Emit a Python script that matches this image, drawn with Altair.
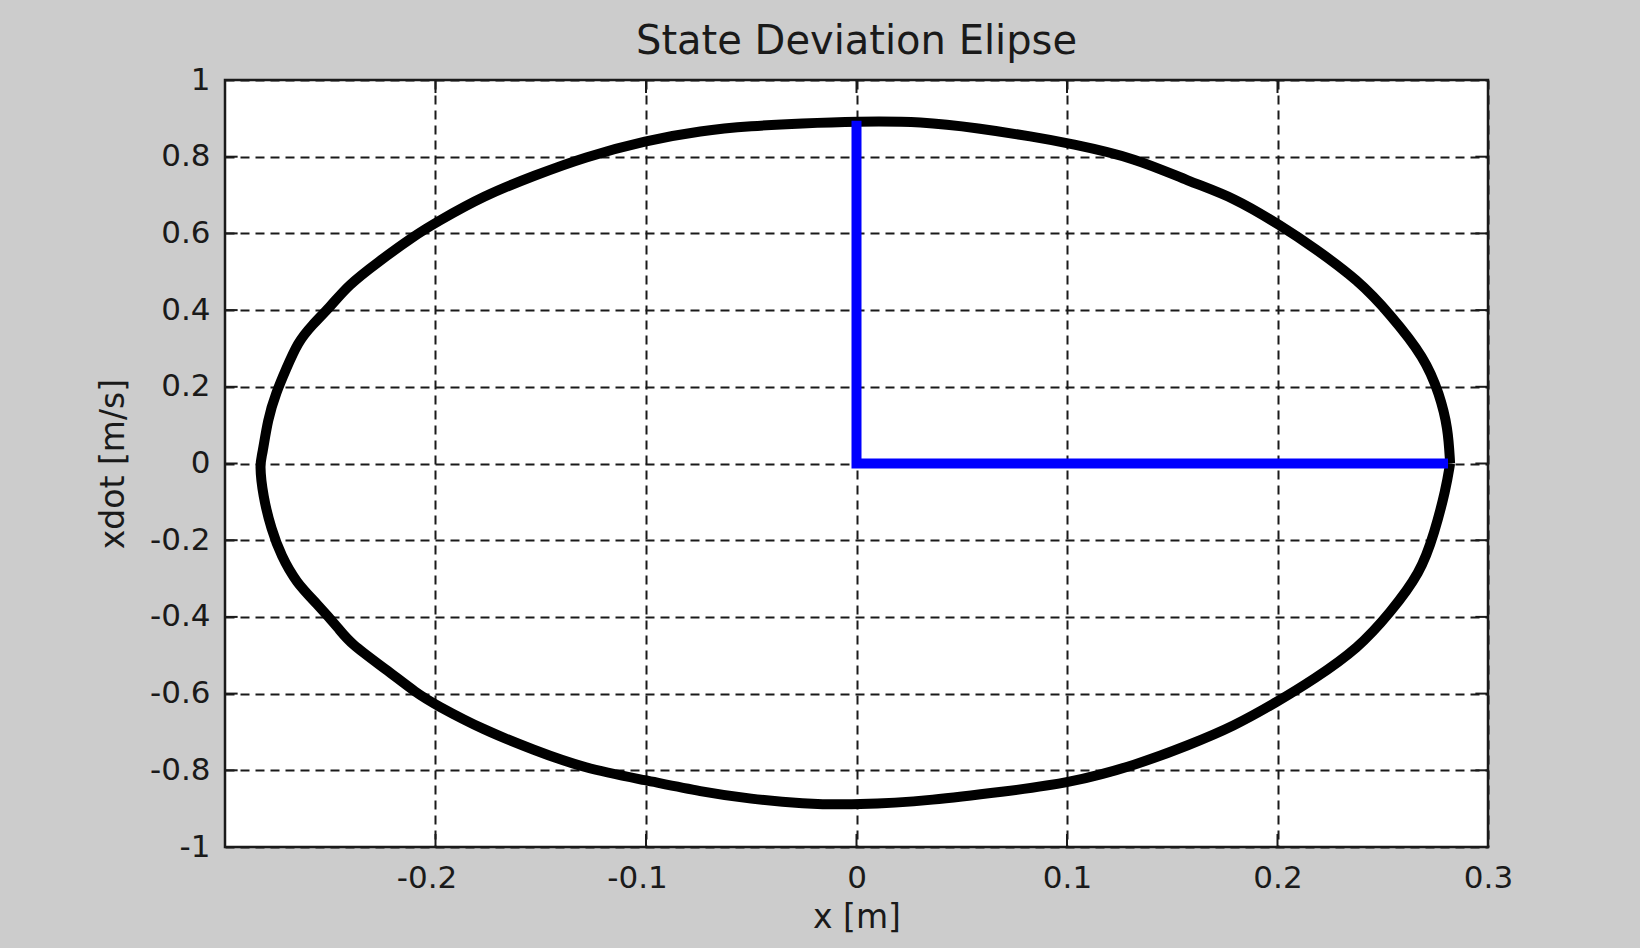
import altair as alt
import pandas as pd

# Ellipse outline (counter-clockwise from the right end)
ellipse_x = [0.282, 0.281, 0.277, 0.270, 0.2534, 0.2386, 0.217, 0.2025, 0.179, 0.158,
             0.133, 0.101, 0.084, 0.058, 0.031, 0.0, -0.026, -0.05,
             -0.0738, -0.1, -0.1293, -0.153, -0.1768, -0.1996, -0.21, -0.2274, -0.2417,
             -0.2496, -0.259, -0.2654, -0.271, -0.2757, -0.2797, -0.2823,
             -0.2836, -0.282, -0.278, -0.2733, -0.2661, -0.2566, -0.2455, -0.2407, -0.2232,
             -0.209, -0.2, -0.1771, -0.1533, -0.1294, -0.1, -0.0738, -0.05,
             -0.026, 0.0, 0.037, 0.069, 0.101, 0.133, 0.158, 0.179, 0.2, 0.217,
             0.2386, 0.2534, 0.268, 0.2746, 0.280, 0.282]
ellipse_y = [0.0, 0.093, 0.180, 0.276, 0.390, 0.477, 0.564, 0.617, 0.695, 0.735,
             0.796, 0.835, 0.852, 0.874, 0.892, 0.892, 0.887, 0.880,
             0.868, 0.842, 0.799, 0.751, 0.699, 0.629, 0.594, 0.525, 0.464,
             0.411, 0.359, 0.316, 0.246, 0.185, 0.116, 0.020,
             0.0, -0.085, -0.172, -0.241, -0.311, -0.364, -0.433, -0.468, -0.538,
             -0.599, -0.629, -0.695, -0.747, -0.795, -0.826, -0.856, -0.875,
             -0.887, -0.891, -0.878, -0.856, -0.834, -0.786, -0.734, -0.686, -0.621, -0.564,
             -0.481, -0.390, -0.285, -0.180, -0.067, 0.0]

# Blue principal-axis lines
vector_x = [0.0, 0.0, 0.281]
vector_y = [0.894, 0.0, 0.0]

x_ticks = [-0.2, -0.1, 0, 0.1, 0.2, 0.3]
y_ticks = [-1, -0.8, -0.6, -0.4, -0.2, 0, 0.2, 0.4, 0.6, 0.8, 1]

ell = pd.DataFrame({"x": ellipse_x, "y": ellipse_y, "i": list(range(len(ellipse_x)))})
vec = pd.DataFrame({"x": vector_x, "y": vector_y, "i": list(range(len(vector_x)))})
xt = pd.DataFrame({"v": x_ticks})
yt = pd.DataFrame({"v": y_ticks})

xscale = alt.Scale(domain=[-0.3, 0.3], nice=False, zero=False)
yscale = alt.Scale(domain=[-1, 1], nice=False, zero=False)

xaxis = alt.Axis(values=x_ticks, title="x [m]", grid=True, labelExpr="toString(datum.value)",
                 labelPadding=16, titlePadding=8, labelFlush=False, labelOverlap=False,
                 labelOffset={"condition": {"test": "datum.value < 0", "value": -9}, "value": 0})
yaxis = alt.Axis(values=y_ticks, title="xdot [m/s]", grid=True, labelExpr="toString(datum.value)",
                 labelPadding=15, titlePadding=19, labelFlush=False, labelOverlap=False)

ellipse = alt.Chart(ell).mark_line(color="black", strokeWidth=10, strokeJoin="round",
                                   interpolate="basis").encode(
    x=alt.X("x:Q", scale=xscale, axis=xaxis),
    y=alt.Y("y:Q", scale=yscale, axis=yaxis),
    order="i:Q",
)

vector = alt.Chart(vec).mark_line(color="#0000ff", strokeWidth=10, strokeJoin="miter").encode(
    x=alt.X("x:Q", scale=xscale, axis=xaxis),
    y=alt.Y("y:Q", scale=yscale, axis=yaxis),
    order="i:Q",
)

tick_style = dict(color="#1a1a1a", strokeWidth=2)
bottom_ticks = alt.Chart(xt).transform_calculate(a="-1", b="-1 + 0.034").mark_rule(**tick_style).encode(
    x=alt.X("v:Q", scale=xscale, axis=xaxis), y=alt.Y("a:Q", scale=yscale, axis=yaxis), y2="b:Q")
top_ticks = alt.Chart(xt).transform_calculate(a="1", b="1 - 0.034").mark_rule(**tick_style).encode(
    x=alt.X("v:Q", scale=xscale, axis=xaxis), y=alt.Y("a:Q", scale=yscale, axis=yaxis), y2="b:Q")
left_ticks = alt.Chart(yt).transform_calculate(a="-0.3", b="-0.3 + 0.006").mark_rule(**tick_style).encode(
    y=alt.Y("v:Q", scale=yscale, axis=yaxis), x=alt.X("a:Q", scale=xscale, axis=xaxis), x2="b:Q")
right_ticks = alt.Chart(yt).transform_calculate(a="0.3", b="0.3 - 0.006").mark_rule(**tick_style).encode(
    y=alt.Y("v:Q", scale=yscale, axis=yaxis), x=alt.X("a:Q", scale=xscale, axis=xaxis), x2="b:Q")

chart = alt.layer(ellipse, bottom_ticks, top_ticks, left_ticks, right_ticks, vector).properties(
    width=1263,
    height=767,
    title=alt.TitleParams("State Deviation Elipse", baseline="alphabetic", offset=27, dy=57),
    autosize=alt.AutoSizeParams(type="none"),
    padding={"left": 225, "top": 80, "right": 152, "bottom": 101},
).configure(
    background="#cccccc", font="DejaVu Sans"
).configure_view(
    fill="white", stroke="#1a1a1a", strokeWidth=2.5
).configure_axis(
    domain=False, ticks=False, labelFontSize=31, titleFontSize=33,
    labelColor="#1a1a1a", titleColor="#1a1a1a", titleFontWeight="normal",
    labelFont="DejaVu Sans", titleFont="DejaVu Sans",
    gridColor="#1a1a1a", gridDash=[9, 6], gridWidth=2, gridOpacity=1,
).configure_title(
    fontSize=40, font="DejaVu Sans", fontWeight="normal", color="#1a1a1a", anchor="middle"
)

chart.save("out.html", embed_options={"renderer": "svg", "actions": False})
